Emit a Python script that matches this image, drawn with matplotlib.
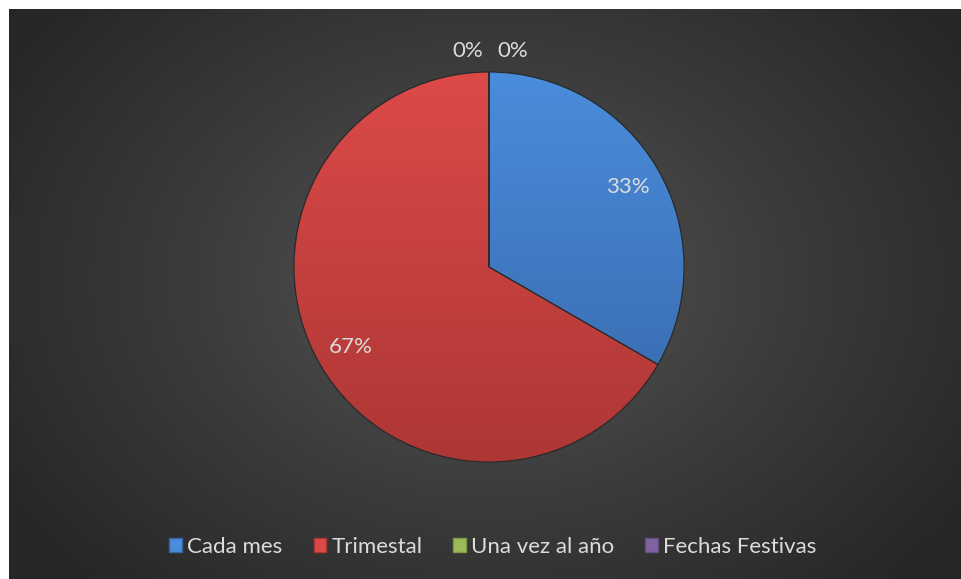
import numpy as np
import matplotlib.pyplot as plt
from matplotlib.patches import Rectangle, Wedge
from matplotlib.colors import LinearSegmentedColormap

categorias = ['Cada mes', 'Trimestal', 'Una vez al año', 'Fechas Festivas']
valores = [1, 2, 0, 0]
etiquetas = ['33%', '67%', '0%', '0%']
# colores (arriba, abajo) para el degradado de cada porcion
colores = [('#4a8ddc', '#3766a8'), ('#dc4a48', '#ad3735'),
           ('#9bbb59', '#7d9a44'), ('#8064a2', '#654f82')]

plt.rcParams['font.family'] = ['Lato', 'DejaVu Sans']

fig = plt.figure(figsize=(9.61, 5.79), dpi=100)
fig.patch.set_facecolor('white')

# fondo oscuro con degradado radial
bg = fig.add_axes([9/961, 0, 952/961, 570/579])
bg.axis('off')
yy, xx = np.mgrid[0:570, 0:952]
d = np.sqrt(((xx - 480) / 580.0)**2 + ((yy - 270) / 430.0)**2)
d = np.clip(d, 0, 1)
cm_bg = LinearSegmentedColormap.from_list('bg', ['#575757', '#3c3c3c', '#262626'])
bg.imshow(d, cmap=cm_bg, vmin=0, vmax=1, aspect='auto', interpolation='bilinear')

ax = fig.add_axes([(489-195)/961, (312-195)/579, 390/961, 390/579])
wedges, _ = ax.pie(valores, startangle=90, counterclock=False, radius=1,
                   wedgeprops=dict(linewidth=0.8, edgecolor='#2a2a2a'))
ax.set_xlim(-1, 1)
ax.set_ylim(-1, 1)
ax.set_aspect('equal')
ax.axis('off')

grad = np.linspace(0, 1, 256).reshape(-1, 1)
for w, (c1, c2) in zip(wedges, colores):
    w.set_facecolor(c1)
    cm = LinearSegmentedColormap.from_list('g', [c1, c2])
    im = ax.imshow(grad, cmap=cm, extent=[-1, 1, -1, 1], aspect='auto',
                   zorder=w.get_zorder() + 0.1, interpolation='bilinear')
    im.set_clip_path(w)
    # borde encima del degradado
    ax.add_patch(Wedge(w.center, w.r, w.theta1, w.theta2, facecolor='none',
                       edgecolor='#2a2a2a', lw=0.8, zorder=w.get_zorder() + 0.2))

# etiquetas de porcentaje
ang = 90.0
total = sum(valores)
for i, (v, t) in enumerate(zip(valores, etiquetas)):
    span = 360.0 * v / total
    mid = np.deg2rad(ang - span / 2)
    ang -= span
    if v > 0:
        x, y = 0.82 * np.cos(mid), 0.82 * np.sin(mid)
    else:
        x = -0.11 if i == 2 else 0.12
        y = 1.11
    ax.text(x, y, t, ha='center', va='center', color='#dcdcdc', fontsize=16)

handles = [Rectangle((0, 0), 1, 1, facecolor=c1, edgecolor=c2, lw=1) for c1, c2 in colores]
fig.legend(handles, categorias, loc='center', bbox_to_anchor=(493/961, 1 - 547/579),
           ncol=4, frameon=False, fontsize=16, labelcolor='#dcdcdc',
           handlelength=0.55, handleheight=0.55, handletextpad=0.25, columnspacing=1.4)

fig.savefig('out.png', dpi=100)
